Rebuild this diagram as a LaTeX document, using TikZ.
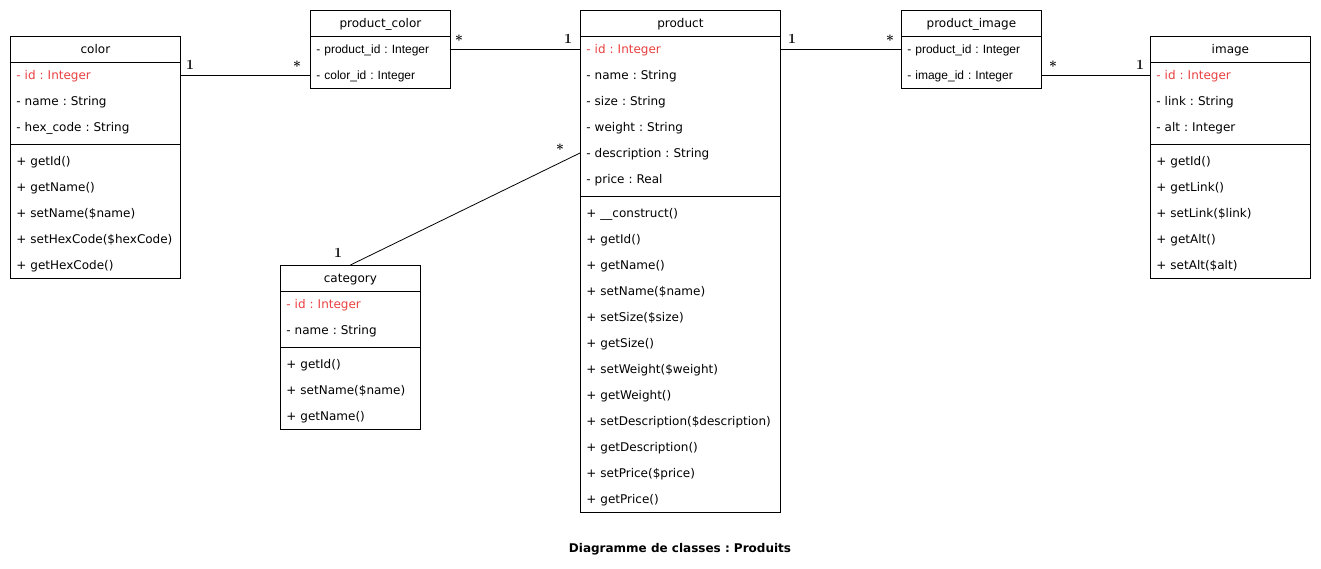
\documentclass[tikz,border=0pt]{standalone}
\usepackage{fontspec}
\usepackage{tikz}
\usetikzlibrary{positioning}
\newfontfamily\umlfont{DejaVu Sans}
\newfontfamily\tablefont{Liberation Sans}
\definecolor{idred}{RGB}{234,64,64}
\frenchspacing

\begin{document}
\begin{tikzpicture}[
                x=1pt, y=-1pt,
                line width=0.8pt,
                every node/.style={font=\umlfont\fontsize{12}{14}\selectfont, text height=9pt, text depth=0pt},
                classbox/.style={rectangle, draw=black, fill=white, anchor=north west, inner sep=0pt},
                head/.style={anchor=north, minimum height=26pt, inner sep=0pt},
                member/.style={anchor=west, align=left, text width=#1, inner xsep=6pt, inner ysep=0pt, minimum height=26pt},
                keyrow/.style={font=\tablefont\fontsize{12}{14}\selectfont},
                mult/.style={font=\rmfamily\bfseries\fontsize{14}{14}\selectfont, anchor=base, inner sep=0pt},
                assoc/.style={draw=black, line width=0.8pt}
            ]
                \useasboundingbox (0,0) rectangle (1321,569);

                % Nodes
                % color
                \node (color) [classbox, minimum width=170pt, minimum height=242pt] at (10,36) {};
                \node (colorHead) [head] at (color.north) {color};
                \draw (colorHead.south -| color.west) -- (colorHead.south -| color.east);
                \draw (10,144) -- (180,144);
                \node (colorId) [member=158pt, text=idred] at (10,75) {- id : Integer};
                \foreach \t [count=\i] in {- name : String, - hex\_code : String}
                    \node (colorAttr\i) [member=158pt] at (10,{75+26*\i}) {\t};
                \foreach \t [count=\i from 0] in {+ getId(), + getName(), + setName(\$name), + setHexCode(\$hexCode), + getHexCode()}
                    \node (colorOp\i) [member=158pt] at (10,{161+26*\i}) {\t};

                % product_color
                \node (prodColor) [classbox, minimum width=140pt, minimum height=78pt] at (310,10) {};
                \node (prodColorHead) [head] at (prodColor.north) {product\_color};
                \draw (prodColorHead.south -| prodColor.west) -- (prodColorHead.south -| prodColor.east);
                \node (prodColorProd) [member=128pt, keyrow] at (310,49) {- product\_id : Integer};
                \node (prodColorColor) [member=128pt, keyrow] at (310,75) {- color\_id : Integer};

                % product
                \node (product) [classbox, minimum width=200pt, minimum height=502pt] at (580,10) {};
                \node (productHead) [head] at (product.north) {product};
                \draw (productHead.south -| product.west) -- (productHead.south -| product.east);
                \draw (580,196) -- (780,196);
                \node (productId) [member=188pt, text=idred] at (580,49) {- id : Integer};
                \foreach \t [count=\i] in {- name : String, - size : String, - weight : String, - description : String, - price : Real}
                    \node (prodAttr\i) [member=188pt] at (580,{49+26*\i}) {\t};
                \foreach \t [count=\i from 0] in {+ \_\_construct(), + getId(), + getName(), + setName(\$name), + setSize(\$size), + getSize(), + setWeight(\$weight), + getWeight(), + setDescription(\$description), + getDescription(), + setPrice(\$price), + getPrice()}
                    \node (prodOp\i) [member=188pt] at (580,{213+26*\i}) {\t};

                % product_image
                \node (prodImage) [classbox, minimum width=140pt, minimum height=78pt] at (901,10) {};
                \node (prodImageHead) [head] at (prodImage.north) {product\_image};
                \draw (prodImageHead.south -| prodImage.west) -- (prodImageHead.south -| prodImage.east);
                \node (prodImageProd) [member=128pt, keyrow] at (901,49) {- product\_id : Integer};
                \node (prodImageImage) [member=128pt, keyrow] at (901,75) {- image\_id : Integer};

                % image
                \node (image) [classbox, minimum width=160pt, minimum height=242pt] at (1150,36) {};
                \node (imageHead) [head] at (image.north) {image};
                \draw (imageHead.south -| image.west) -- (imageHead.south -| image.east);
                \draw (1150,144) -- (1310,144);
                \node (imageId) [member=148pt, text=idred] at (1150,75) {- id : Integer};
                \foreach \t [count=\i] in {- link : String, - alt : Integer}
                    \node (imageAttr\i) [member=148pt] at (1150,{75+26*\i}) {\t};
                \foreach \t [count=\i from 0] in {+ getId(), + getLink(), + setLink(\$link), + getAlt(), + setAlt(\$alt)}
                    \node (imageOp\i) [member=148pt] at (1150,{161+26*\i}) {\t};

                % category
                \node (category) [classbox, minimum width=140pt, minimum height=164pt] at (280,265) {};
                \node (categoryHead) [head] at (category.north) {category};
                \draw (categoryHead.south -| category.west) -- (categoryHead.south -| category.east);
                \draw (280,347) -- (420,347);
                \node (categoryId) [member=128pt, text=idred] at (280,304) {- id : Integer};
                \node (categoryName) [member=128pt] at (280,330) {- name : String};
                \foreach \t [count=\i from 0] in {+ getId(), + setName(\$name), + getName()}
                    \node (categoryOp\i) [member=128pt] at (280,{364+26*\i}) {\t};

                % Multiplicities
                \node (multColor) [mult] at (190,70) {1};
                \node (multPcColor) [mult] at (297,72) {*};
                \node (multPcProd) [mult] at (459,46) {*};
                \node (multProdPc) [mult] at (568,44) {1};
                \node (multProdPi) [mult] at (792,44) {1};
                \node (multPiProd) [mult] at (890,46) {*};
                \node (multPiImage) [mult] at (1053,72) {*};
                \node (multImage) [mult] at (1140,70) {1};
                \node (multCategory) [mult] at (338,257) {1};
                \node (multProdCat) [mult] at (560,155) {*};

                \node (title) [font=\umlfont\bfseries\fontsize{12}{14}\selectfont] at (680,548) {Diagramme de classes : Produits};

                % Arrows
                \draw [assoc] (colorId.east) -- (prodColorColor.west);
                \draw [assoc] (prodColorProd.east) -- (productId.west);
                \draw [assoc] (productId.east) -- (prodImageProd.west);
                \draw [assoc] (prodImageImage.east) -- (imageId.west);
                \draw [assoc] (category.north) -- (prodAttr4.west);

            \end{tikzpicture}
\end{document}
